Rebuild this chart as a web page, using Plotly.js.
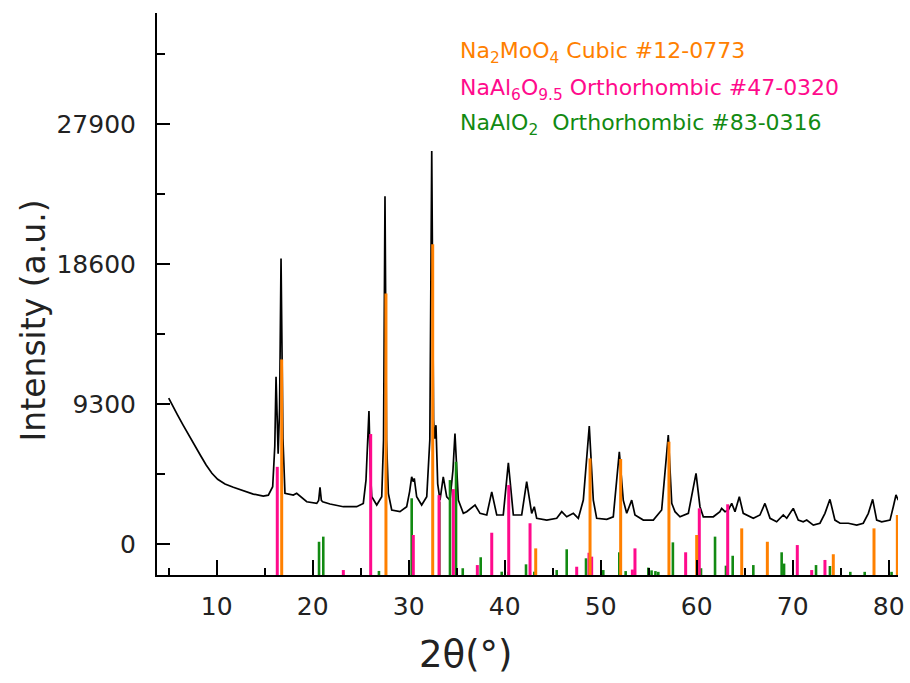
<!DOCTYPE html>
<html>
<head>
<meta charset="utf-8">
<script src="https://cdn.plot.ly/plotly-3.0.1.min.js"></script>
<style>
html,body{margin:0;padding:0;background:#fff;}
#chart{width:910px;height:683px;}
</style>
</head>
<body>
<div id="chart"></div>
<script>
// Measured XRD pattern (2θ in degrees, intensity in a.u.)
const twoTheta = [5.00,5.40,5.90,6.50,7.10,7.70,8.30,8.90,9.50,10.10,10.86,11.73,12.77,13.81,14.85,15.38,15.83,16.05,16.18,16.40,16.55,16.70,16.90,17.11,17.98,18.33,19.38,20.42,20.62,20.76,20.90,21.04,21.80,23.19,24.58,25.27,25.55,25.86,26.00,26.15,26.67,27.19,27.38,27.53,27.69,27.88,28.23,29.09,29.79,30.10,30.31,30.48,30.58,30.83,31.35,31.88,32.20,32.40,32.59,32.70,32.84,33.02,33.26,33.60,33.96,34.30,34.61,34.82,35.17,35.69,36.04,36.91,37.43,38.13,38.65,39.17,39.85,40.38,40.90,41.77,42.29,42.81,43.08,43.33,44.38,45.42,45.94,46.46,47.15,47.67,48.19,48.81,49.23,49.58,50.63,51.31,51.94,52.35,52.71,53.23,53.57,54.44,55.48,56.35,57.04,57.40,57.74,58.26,59.13,59.93,60.34,60.69,61.73,62.42,62.60,62.95,63.29,63.65,63.99,64.44,64.85,65.21,65.90,66.59,67.11,67.64,68.33,69.02,69.38,70.06,70.58,71.10,71.46,72.15,72.84,73.36,73.88,74.40,74.93,75.79,76.67,77.35,77.88,78.33,78.75,79.27,80.14,80.48,80.76,81.00];
const intensity = [9700,9250,8600,7900,7200,6550,5900,5250,4700,4300,3990,3770,3520,3320,3190,3250,3810,6500,11110,6000,9000,18980,7000,3370,3250,3370,2810,2700,2900,3770,2900,2810,2660,2480,2480,2700,4250,8840,5000,3140,2590,3140,6910,23120,6910,3370,2260,2150,2480,3500,4470,4140,4360,3140,2590,3140,6910,26130,8240,7000,7900,4000,2920,4470,3140,2920,4920,7350,2920,2040,2150,2590,2040,1930,3470,1930,1930,5400,1930,1930,4140,2040,2480,1710,1590,1710,2150,1810,2040,1710,2920,7840,2920,1710,1640,1810,6130,2920,2040,2920,1930,1590,1590,2260,7240,2700,2150,1810,2040,4700,2480,1810,1810,2150,2370,2150,2260,2700,2150,3140,2040,1930,1710,1930,2700,1710,1480,1930,1710,2370,1590,1480,1590,1260,1380,2040,2970,1590,1380,1380,1260,1380,2040,2970,1590,1480,1590,2480,3260,2920];

// Reference patterns (stick positions and tops)
const na2moo4X = [16.77,27.63,32.50,43.23,48.89,52.08,57.11,60.00,64.69,67.36,74.23,78.47,80.90];
const na2moo4Y = [12270,16650,19930,-290,5690,5650,6800,600,1040,150,-680,1040,1930];

const naal6X = [16.31,23.19,26.04,30.48,33.16,34.65,37.15,38.65,40.42,42.64,47.50,48.78,49.06,53.30,53.57,58.85,60.27,63.23,70.48,71.98,73.36];
const naal6Y = [5130,-1730,7310,600,3250,3650,-1400,750,3920,1380,-1510,-580,-840,-1700,-290,-550,2370,2640,-70,-1730,-1060];

const naalo2X = [20.66,21.10,26.90,30.31,33.19,34.30,34.93,35.63,37.50,39.69,40.40,42.22,43.08,45.42,46.46,48.47,50.27,51.94,52.60,54.96,55.30,55.70,56.00,57.52,60.45,61.91,63.05,63.75,65.90,68.85,69.10,72.43,73.88,76.00,77.50,80.30];
const naalo2Y = [150,490,-1790,3040,2810,4250,5470,-1610,-880,-1840,-1840,-1350,-1840,-1730,-350,-950,-1730,-550,-1800,-1570,-1750,-1800,-1850,110,-1610,490,-1440,-780,-1400,-550,-1300,-1400,-1460,-1850,-1850,-1850];

const yTicks = [0, 9300, 18600, 27900];
const xTicks = [10, 20, 30, 40, 50, 60, 70, 80];

const xTitle = '2θ(°)';
const yTitle = 'Intensity (a.u.)';
const legendTexts = [
  'Na<sub>2</sub>MoO<sub>4</sub> Cubic #12-0773',
  'NaAl<sub>6</sub>O<sub>9.5</sub> Orthorhombic #47-0320',
  'NaAlO<sub>2</sub>\u00A0 Orthorhombic #83-0316'
];

const Y_MIN = -2060, Y_MAX = 35300;
const STICK_BASE = -2500;

function sticks(xs, ys) {
  const sx = [], sy = [];
  xs.forEach((x, i) => { sx.push(x, x, null); sy.push(STICK_BASE, ys[i], null); });
  return {x: sx, y: sy};
}

const cOrange = '#FF8000', cPink = '#FF0A8C', cGreen = '#128A12';
const g = sticks(naalo2X, naalo2Y), p = sticks(naal6X, naal6Y), o = sticks(na2moo4X, na2moo4Y);

const traces = [
  {x: twoTheta, y: intensity, type: 'scatter', mode: 'lines', line: {color: '#000', width: 1.7}, name: 'Sample'},
  {x: g.x, y: g.y, type: 'scatter', mode: 'lines', line: {color: cGreen, width: 2.6}, name: 'NaAlO2', connectgaps: false},
  {x: p.x, y: p.y, type: 'scatter', mode: 'lines', line: {color: cPink, width: 3}, name: 'NaAl6O9.5', connectgaps: false},
  {x: o.x, y: o.y, type: 'scatter', mode: 'lines', line: {color: cOrange, width: 3}, name: 'Na2MoO4', connectgaps: false}
];

const FONT = 'DejaVu Sans, Liberation Sans, Arial, sans-serif';
const legendColors = [cOrange, cPink, cGreen];
const legendY = [0.930, 0.864, 0.802];

const annotations = legendTexts.map((t, i) => ({
  text: t, xref: 'paper', yref: 'paper', x: 0.406, y: legendY[i],
  xanchor: 'left', yanchor: 'middle', showarrow: false,
  font: {family: FONT, size: 22, color: legendColors[i]}
}));
// axis titles (placed as in the reference, off-centre)
annotations.push({
  text: xTitle, xref: 'paper', yref: 'paper', x: 0.417, y: -0.142,
  xanchor: 'center', yanchor: 'middle', showarrow: false,
  font: {family: FONT, size: 37, color: '#222'}
});
annotations.push({
  text: yTitle, xref: 'paper', yref: 'paper', x: -0.167, y: 0.4535,
  xanchor: 'center', yanchor: 'middle', showarrow: false, textangle: -90,
  font: {family: FONT, size: 33, color: '#222'}
});

const layout = {
  width: 910, height: 683,
  margin: {l: 157, r: 12, t: 13, b: 108},
  paper_bgcolor: '#fff', plot_bgcolor: '#fff',
  showlegend: false,
  font: {family: FONT, color: '#222'},
  xaxis: {
    range: [3.78, 80.97],
    tickvals: xTicks, ticktext: xTicks.map(String),
    ticks: 'inside', ticklen: 15, tickwidth: 2, tickcolor: '#000',
    minor: {tickvals: [5,15,25,35,45,55,65,75], ticks: 'inside', ticklen: 7, tickwidth: 2, tickcolor: '#000'},
    showline: true, linewidth: 2, linecolor: '#000',
    showgrid: false, zeroline: false,
    tickfont: {family: FONT, size: 25, color: '#222'},
    ticklabelstandoff: 8
  },
  yaxis: {
    range: [Y_MIN, Y_MAX],
    tickvals: yTicks, ticktext: yTicks.map(String),
    ticks: 'inside', ticklen: 13, tickwidth: 2, tickcolor: '#000',
    minor: {tickvals: [4650, 13950, 23250, 32550], ticks: 'inside', ticklen: 8, tickwidth: 2, tickcolor: '#000'},
    showline: true, linewidth: 2, linecolor: '#000',
    showgrid: false, zeroline: false,
    tickfont: {family: FONT, size: 25, color: '#222'},
    ticklabelstandoff: 14
  },
  annotations: annotations
};

Plotly.newPlot('chart', traces, layout, {displayModeBar: false, staticPlot: true});
</script>
</body>
</html>
